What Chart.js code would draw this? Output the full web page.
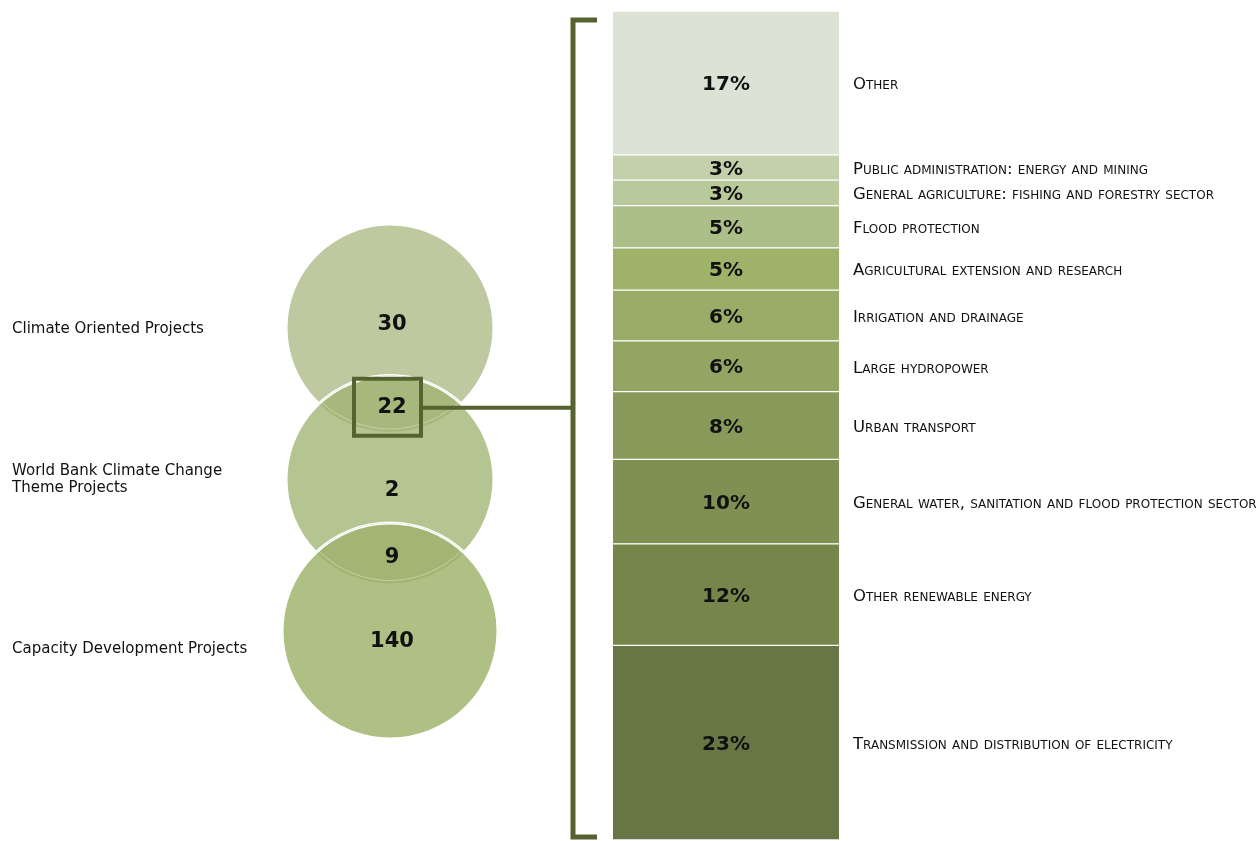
<!DOCTYPE html>
<html><head><meta charset="utf-8">
<script src="https://cdn.jsdelivr.net/npm/chart.js@4"></script>
<style>
html,body{margin:0;padding:0;background:#fff;}
#wrap{position:relative;width:1258px;height:841px;overflow:hidden;}
#wrap canvas{position:absolute;left:0;top:0;}
</style></head><body>
<div id="wrap">
<canvas id="venn" width="1258" height="841"></canvas>
<canvas id="bar" width="1258" height="841"></canvas>
</div>
<script>
// ---- data ----
const groupLabels = [['Climate Oriented Projects'], ['World Bank Climate Change', 'Theme Projects'], ['Capacity Development Projects']];
const groupOnlyCounts = [30, 2, 140];
const overlapCounts = [22, 9];
const groupLevels = [2, 1, 0];
const groupRadius = [104, 104, 108];

// bottom -> top
const sectorLabels = [
  'Transmission and distribution of electricity',
  'Other renewable energy',
  'General water, sanitation and flood protection sector',
  'Urban transport',
  'Large hydropower',
  'Irrigation and drainage',
  'Agricultural extension and research',
  'Flood protection',
  'General agriculture: fishing and forestry sector',
  'Public administration: energy and mining',
  'Other'
];
const sectorShares = [23, 12, 10, 8, 6, 6, 5, 5, 3, 3, 17];

// ---- styles ----
const circleColors = ['#bfc9a0', '#b5c592', '#aec083'];
const lensColors = ['#a6b87b', '#a3b574'];
const sectorColors = ['#687645', '#76864b', '#7f9052', '#889a5a', '#93a563', '#9aad68', '#9fb26a', '#adbf88', '#b8c99c', '#c4d0ac', '#dde3d4'];
const accent = '#56622f';
const textNudge = [-3, 11, 11];
const labelNudge = [1, 0, 18];

const vennPlugin = {
  id: 'vennDecor',
  afterDatasetsDraw(chart) {
    const ctx = chart.ctx;
    const pts = chart.getDatasetMeta(0).data.map(p => ({x: p.x, y: p.y, r: p.options.radius}));
    for (let i = 0; i < pts.length - 1; i++) {
      const a = pts[i], b = pts[i + 1];
      ctx.save();
      ctx.beginPath(); ctx.arc(a.x, a.y, a.r, 0, Math.PI * 2); ctx.clip();
      ctx.beginPath(); ctx.arc(b.x, b.y, b.r, 0, Math.PI * 2); ctx.clip();
      ctx.fillStyle = lensColors[i];
      ctx.fillRect(0, 0, chart.width, chart.height);
      ctx.beginPath(); ctx.arc(a.x, a.y, a.r - 3, 0, Math.PI * 2);
      ctx.strokeStyle = 'rgba(255,255,255,0.35)'; ctx.lineWidth = 1; ctx.stroke();
      ctx.beginPath(); ctx.arc(b.x, b.y, b.r, 0, Math.PI * 2);
      ctx.strokeStyle = '#fff'; ctx.lineWidth = 3; ctx.stroke();
      ctx.restore();
    }
    ctx.save();
    ctx.fillStyle = '#111';
    ctx.textAlign = 'center'; ctx.textBaseline = 'middle';
    ctx.font = 'bold 21px "DejaVu Sans"';
    pts.forEach((p, i) => ctx.fillText(String(groupOnlyCounts[i]), p.x + 2, p.y + textNudge[i]));
    chart.$lens = [];
    for (let i = 0; i < pts.length - 1; i++) {
      const a = pts[i], b = pts[i + 1];
      const cy = ((a.y + a.r) + (b.y - b.r)) / 2 + 4;
      const cx = (a.x + b.x) / 2 + 2;
      ctx.fillText(String(overlapCounts[i]), cx, cy);
      chart.$lens.push({x: cx, y: cy});
    }
    // highlight box around first overlap
    const L = chart.$lens[0];
    ctx.strokeStyle = accent; ctx.lineWidth = 4;
    ctx.strokeRect(L.x - 38, L.y - 29, 67, 57);
    chart.$box = {right: L.x + 29, y: L.y};
    // group labels
    ctx.textAlign = 'left';
    ctx.font = '15px "DejaVu Sans"';
    pts.forEach((p, i) => {
      const lines = groupLabels[i];
      const y0 = p.y + labelNudge[i] - (lines.length - 1) * 17 / 2;
      lines.forEach((t, k) => ctx.fillText(t, 12, y0 + k * 17));
    });
    ctx.restore();
  }
};

const venn = new Chart(document.getElementById('venn'), {
  type: 'bubble',
  data: {
    datasets: [{
      data: groupLevels.map((lv, i) => ({x: 0, y: lv, r: groupRadius[i]})),
      backgroundColor: circleColors,
      borderColor: '#ffffff',
      borderWidth: 3,
      clip: false
    }]
  },
  options: {
    responsive: false, animation: false, events: [],
    layout: {padding: {left: 285, right: 763, top: 328, bottom: 210}},
    scales: {x: {display: false, min: -1, max: 1}, y: {display: false, min: 0, max: 2}},
    plugins: {legend: {display: false}, tooltip: {enabled: false}}
  },
  plugins: [vennPlugin]
});

const total = sectorShares.reduce((s, v) => s + v, 0);

const barPlugin = {
  id: 'barDecor',
  afterDatasetsDraw(chart) {
    const ctx = chart.ctx;
    const area = chart.chartArea;
    ctx.save();
    chart.data.datasets.forEach((ds, i) => {
      const el = chart.getDatasetMeta(i).data[0];
      const cy = (el.y + el.base) / 2;
      ctx.fillStyle = '#111';
      ctx.textAlign = 'center'; ctx.textBaseline = 'middle';
      ctx.font = 'bold 20px "DejaVu Sans"';
      ctx.fillText(sectorShares[i] + '%', el.x, cy + 2);
      ctx.textAlign = 'left';
      ctx.font = 'small-caps 16.5px "DejaVu Sans"';
      try { ctx.fontVariantCaps = 'small-caps'; } catch (e) {}
      ctx.fillText(sectorLabels[i], el.x + el.width / 2 + 14, cy + 2);
      try { ctx.fontVariantCaps = 'normal'; } catch (e) {}
    });
    // bracket
    const bx = area.left - 40;
    const top = area.top + 9, bot = area.bottom - 3;
    ctx.strokeStyle = accent; ctx.lineWidth = 5; ctx.lineCap = 'butt'; ctx.lineJoin = 'miter';
    ctx.beginPath();
    ctx.moveTo(area.left - 16, top); ctx.lineTo(bx, top); ctx.lineTo(bx, bot); ctx.lineTo(area.left - 16, bot);
    ctx.stroke();
    // connector from highlighted overlap
    if (venn.$box) {
      ctx.lineWidth = 4;
      ctx.beginPath();
      ctx.moveTo(venn.$box.right, venn.$box.y);
      ctx.lineTo(bx, venn.$box.y);
      ctx.stroke();
    }
    ctx.restore();
  }
};

new Chart(document.getElementById('bar'), {
  type: 'bar',
  data: {
    labels: ['Sectors'],
    datasets: sectorLabels.map((l, i) => ({
      label: l,
      data: [sectorShares[i]],
      backgroundColor: sectorColors[i],
      borderColor: '#ffffff',
      borderWidth: {top: 1, bottom: 1, left: 0, right: 0},
      borderSkipped: false,
      barPercentage: 1,
      categoryPercentage: 1
    }))
  },
  options: {
    responsive: false, animation: false, events: [],
    layout: {padding: {left: 613, right: 419, top: 11, bottom: 1}},
    scales: {
      x: {display: false, stacked: true},
      y: {display: false, stacked: true, min: 0, max: total}
    },
    plugins: {legend: {display: false}, tooltip: {enabled: false}}
  },
  plugins: [barPlugin]
});
</script>
</body></html>
